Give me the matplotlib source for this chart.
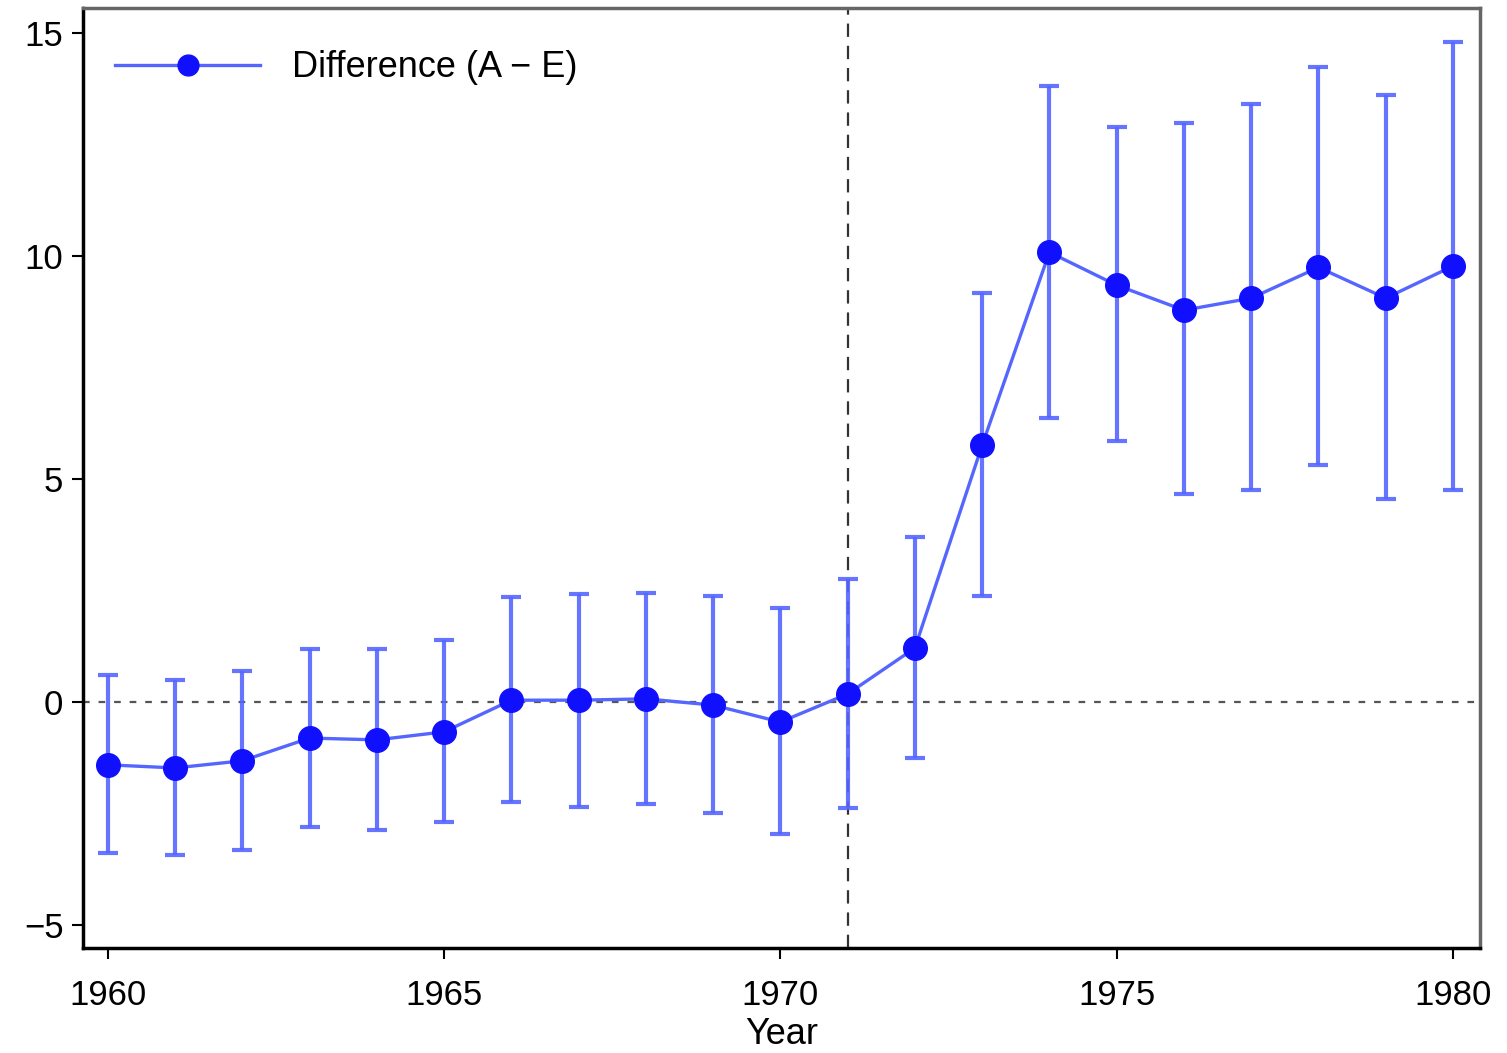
import matplotlib
matplotlib.use("Agg")
import matplotlib.pyplot as plt
from matplotlib.lines import Line2D
import numpy as np

plt.rcParams["font.family"] = ["Liberation Sans", "DejaVu Sans"]

years = list(range(1960, 1981))
diff = [-1.41, -1.48, -1.32, -0.81, -0.85, -0.67, 0.04, 0.04, 0.07, -0.07, -0.45,
        0.18, 1.21, 5.76, 10.09, 9.35, 8.79, 9.06, 9.75, 9.06, 9.78]
ci_hi = [0.60, 0.49, 0.70, 1.19, 1.19, 1.39, 2.35, 2.42, 2.44, 2.38, 2.10,
         2.76, 3.70, 9.17, 13.81, 12.91, 12.98, 13.41, 14.24, 13.61, 14.80]
ci_lo = [-3.39, -3.43, -3.32, -2.80, -2.87, -2.69, -2.24, -2.35, -2.29, -2.49, -2.96,
         -2.38, -1.26, 2.38, 6.37, 5.85, 4.66, 4.75, 5.31, 4.55, 4.75]
event_year = 1971

diff = np.array(diff)
yerr = [diff - np.array(ci_lo), np.array(ci_hi) - diff]

fig = plt.figure(figsize=(15.07, 10.53), dpi=100)
ax = fig.add_axes([0.055, 0.0997, 0.927, 0.8923])

ax.axhline(0, color="#555555", linestyle=(0, (3, 4)), linewidth=1.6, zorder=1)
ax.axvline(event_year, color="#333333", linestyle=(0, (6, 4)), linewidth=1.6, zorder=1)

blue_light = "#5566ff"
ax.errorbar(years, diff, yerr=yerr, fmt="none", ecolor=blue_light, elinewidth=3.0,
            capsize=7.5, capthick=3.0, alpha=0.9, zorder=2)
ax.plot(years, diff, color=blue_light, linewidth=2.4, zorder=3)
ax.plot(years, diff, "o", color="#1010ff", markersize=17, zorder=4)

handle = Line2D([], [], color=blue_light, linewidth=2.4, marker="o",
                markerfacecolor="#1010ff", markeredgecolor="#1010ff", markersize=15)
ax.legend([handle], ["Difference (A \u2212 E)"], loc="upper left", frameon=False,
          fontsize=26, handlelength=4.0, handletextpad=0.9,
          bbox_to_anchor=(0.0, 0.99))

ax.set_xlim(1959.63, 1980.4)
ax.set_ylim(-5.52, 15.56)
ax.set_xticks([1960, 1965, 1970, 1975, 1980])
ax.set_yticks([-5, 0, 5, 10, 15])
ax.set_yticklabels(["\u22125", "0", "5", "10", "15"])
ax.tick_params(direction="out", length=8, width=1.5, labelsize=25)
ax.tick_params(axis="x", pad=14)
ax.tick_params(axis="y", pad=6)
ax.set_xlabel("Year", fontsize=26, labelpad=4)

for s in ["left", "bottom"]:
    ax.spines[s].set_linewidth(2.5)
    ax.spines[s].set_color("black")
for s in ["top", "right"]:
    ax.spines[s].set_linewidth(2.5)
    ax.spines[s].set_color("#666666")

fig.savefig("out.png", dpi=100)
